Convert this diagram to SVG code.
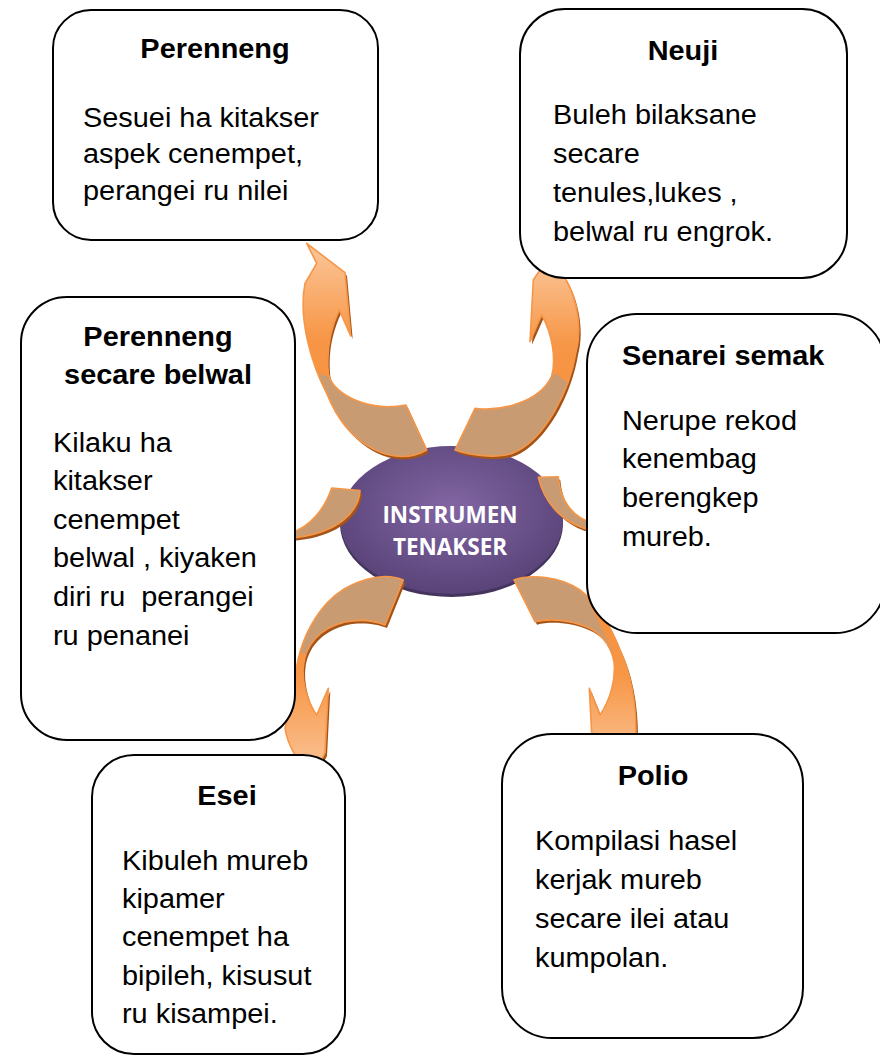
<svg xmlns="http://www.w3.org/2000/svg" xmlns:xlink="http://www.w3.org/1999/xlink" width="880" height="1057" viewBox="0 0 880 1057">
<style>
.box{fill:#fff;stroke:#000;stroke-width:2}
.title{font-family:"Liberation Sans",Arial,sans-serif;font-weight:bold;font-size:27px;fill:#000}
.body{font-family:"Liberation Sans",Arial,sans-serif;font-size:27px;fill:#000}
.ctext{font-family:"Open Sans","Noto Sans",sans-serif;font-weight:bold;font-size:22.5px;fill:#fff}
.shadow{fill:#a3541a}
.brown{fill:#c99b73}
.outline{fill:none;stroke:#f79646;stroke-width:1.6;stroke-linejoin:round}
</style>
<defs>
<linearGradient id="gUp" x1="0" y1="0" x2="0" y2="1"><stop offset="0" stop-color="#fbc79b"/><stop offset="0.45" stop-color="#f79646"/><stop offset="1" stop-color="#f58f3c"/></linearGradient>
<linearGradient id="gDown" x1="0" y1="1" x2="0" y2="0"><stop offset="0" stop-color="#fbc79b"/><stop offset="0.5" stop-color="#f79646"/><stop offset="1" stop-color="#f58f3c"/></linearGradient>
<radialGradient id="gEl" cx="0.5" cy="0.42" r="0.58"><stop offset="0" stop-color="#8266a4"/><stop offset="1" stop-color="#594378"/></radialGradient>
<path id="pA" d="M306.7,243.3 L345,272.7 L350.7,336 L339.3,310 C330,330 326,350 328.3,373.3 C332,395 370,412 406,405 L426.7,450 C395,468 348,448 326.7,393.3 C312,365 298,320 305,283.3 L316.7,263.3 Z"/>
<path id="pB" d="M550,255 L565,278 C578,300 582,330 576,352 C570,390 545,440 513,453 C500,458 475,457 455,450 L475,408.3 C500,412 540,402 551.7,376 C556,360 553,335 541.7,315 L530,341.7 L533.3,280 Z"/>
<path id="pC" d="M331.7,488 L360,490.5 C359,510 340,534 290,538 L290,533 C310,528 325,508 331.7,488 Z"/>
<path id="pD" d="M538.3,477.3 L558.3,476.7 C560,500 572,518 595,524 L595,531 C565,526 545,505 538.3,477.3 Z"/>
<path id="pE" d="M403.3,580 C385,572 350,578 326.7,603.3 C310,622 300,645 296,670 C293,690 290,712 285,728 C287,745 300,765 312,778 L325,753 L328.3,688.3 L316.7,715 C306,700 302,680 303.3,666.7 C305,645 320,628 345,622 C360,619 375,621 385,625 Z"/>
<path id="pF" d="M514,580 C530,574 560,576 580,590 C600,605 612,630 620,650 C630,672 636,700 636,733 L614,772 L591.7,733.3 L589.3,688.3 L600,715 C610,700 616,680 614,662 C611,645 600,632 586.7,627 C570,620 550,618 535,621.7 Z"/>
<clipPath id="cA"><use xlink:href="#pA"/></clipPath>
<clipPath id="cB"><use xlink:href="#pB"/></clipPath>
<clipPath id="cE"><use xlink:href="#pE"/></clipPath>
<clipPath id="cF"><use xlink:href="#pF"/></clipPath>
</defs>

<g id="center">
<ellipse cx="451.5" cy="523.5" rx="111.5" ry="73.5" fill="#45345e"/>
<ellipse cx="451.5" cy="520" rx="111.5" ry="74" fill="url(#gEl)"/>
<text class="ctext" text-anchor="middle" x="450" y="523">INSTRUMEN</text>
<text class="ctext" text-anchor="middle" x="450" y="555">TENAKSER</text>
</g>

<g id="connectors">
<g id="arrow-perenneng">
<use xlink:href="#pA" class="shadow" transform="translate(2,3)"/>
<use xlink:href="#pA" fill="url(#gUp)"/>
<polygon class="brown" clip-path="url(#cA)" points="280,365 335,378 460,378 460,480 280,480"/>
<use xlink:href="#pA" class="outline"/>
</g>
<g id="arrow-neuji">
<use xlink:href="#pB" class="shadow" transform="translate(2,3)"/>
<use xlink:href="#pB" fill="url(#gUp)"/>
<polygon class="brown" clip-path="url(#cB)" points="430,376 556,374 590,400 590,480 430,480"/>
<use xlink:href="#pB" class="outline"/>
</g>
<g id="arrow-belwal">
<use xlink:href="#pC" class="shadow" transform="translate(2,3)"/>
<use xlink:href="#pC" class="brown"/>
<use xlink:href="#pC" class="outline"/>
</g>
<g id="arrow-senarei">
<use xlink:href="#pD" class="shadow" transform="translate(2,3)"/>
<use xlink:href="#pD" class="brown"/>
<use xlink:href="#pD" class="outline"/>
</g>
<g id="arrow-esei">
<use xlink:href="#pE" class="shadow" transform="translate(2,3)"/>
<use xlink:href="#pE" fill="url(#gDown)"/>
<polygon class="brown" clip-path="url(#cE)" points="280,555 430,555 430,640 310,656 280,645"/>
<use xlink:href="#pE" class="outline"/>
</g>
<g id="arrow-polio">
<use xlink:href="#pF" class="shadow" transform="translate(2,3)"/>
<use xlink:href="#pF" fill="url(#gDown)"/>
<polygon class="brown" clip-path="url(#cF)" points="500,555 576,555 583,590 613,652 600,680 500,680"/>
<use xlink:href="#pF" class="outline"/>
</g>
</g>

<g id="node-perenneng">
<rect class="box" x="53" y="10" width="325" height="230" rx="38" ry="38"/>
<text class="title" text-anchor="middle" transform="translate(215,57.5) scale(1.07 1)">Perenneng</text>
<text class="body" transform="translate(83,127) scale(1.07 1)"><tspan x="0" y="0">Sesuei ha kitakser</tspan><tspan x="0" y="36.5">aspek cenempet,</tspan><tspan x="0" y="73.5">perangei ru nilei</tspan></text>
</g>

<g id="node-neuji">
<rect class="box" x="520" y="9" width="327" height="269" rx="45" ry="45"/>
<text class="title" text-anchor="middle" transform="translate(683,60) scale(1.07 1)">Neuji</text>
<text class="body" transform="translate(553,124) scale(1.07 1)"><tspan x="0" y="0">Buleh bilaksane</tspan><tspan x="0" y="39">secare</tspan><tspan x="0" y="78">tenules,lukes ,</tspan><tspan x="0" y="117">belwal ru engrok.</tspan></text>
</g>

<g id="node-perenneng-belwal">
<rect class="box" x="21" y="297" width="274" height="443" rx="46" ry="46"/>
<text class="title" text-anchor="middle" transform="translate(158,346) scale(1.07 1)"><tspan x="0" y="0">Perenneng</tspan><tspan x="0" y="38.3">secare belwal</tspan></text>
<text class="body" xml:space="preserve" transform="translate(53,452) scale(1.07 1)"><tspan x="0" y="0">Kilaku ha</tspan><tspan x="0" y="38.5">kitakser</tspan><tspan x="0" y="77">cenempet</tspan><tspan x="0" y="115.5">belwal , kiyaken</tspan><tspan x="0" y="154">diri ru  perangei</tspan><tspan x="0" y="193">ru penanei</tspan></text>
</g>

<g id="node-senarei">
<rect class="box" x="587" y="314" width="298" height="319" rx="50" ry="50"/>
<text class="title" transform="translate(622,365) scale(1.07 1)">Senarei semak</text>
<text class="body" transform="translate(622,430) scale(1.07 1)"><tspan x="0" y="0">Nerupe rekod</tspan><tspan x="0" y="38.5">kenembag</tspan><tspan x="0" y="77">berengkep</tspan><tspan x="0" y="116">mureb.</tspan></text>
</g>

<g id="node-esei">
<rect class="box" x="92" y="755" width="253" height="299" rx="42" ry="42"/>
<text class="title" text-anchor="middle" transform="translate(227,804.5) scale(1.07 1)">Esei</text>
<text class="body" transform="translate(122,869.5) scale(1.07 1)"><tspan x="0" y="0">Kibuleh mureb</tspan><tspan x="0" y="38.5">kipamer</tspan><tspan x="0" y="77">cenempet ha</tspan><tspan x="0" y="115.5">bipileh, kisusut</tspan><tspan x="0" y="154">ru kisampei.</tspan></text>
</g>

<g id="node-polio">
<rect class="box" x="502" y="734" width="301" height="304" rx="50" ry="50"/>
<text class="title" text-anchor="middle" transform="translate(653,785) scale(1.07 1)">Polio</text>
<text class="body" transform="translate(535,850) scale(1.07 1)"><tspan x="0" y="0">Kompilasi hasel</tspan><tspan x="0" y="39">kerjak mureb</tspan><tspan x="0" y="78">secare ilei atau</tspan><tspan x="0" y="117">kumpolan.</tspan></text>
</g>
</svg>
